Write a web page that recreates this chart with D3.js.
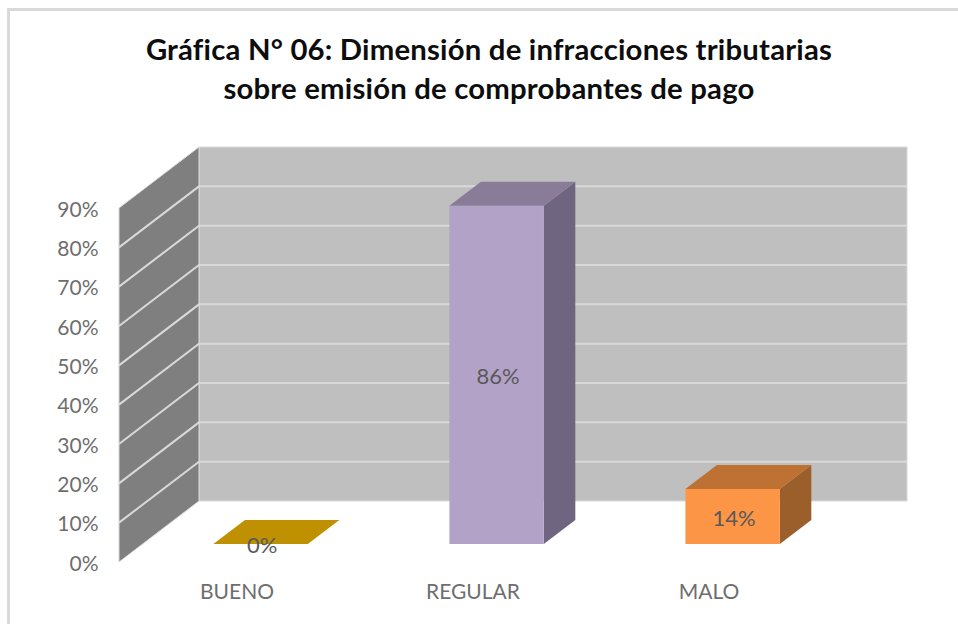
<!DOCTYPE html>
<html><head><meta charset="utf-8">
<script src="https://cdn.jsdelivr.net/npm/d3@7"></script>
<style>html,body{margin:0;padding:0;background:#fff}svg{display:block}text{font-family:Lato,"Noto Sans",sans-serif}</style>
</head><body><div id="chart"></div>
<script>
const titleLines = ["Gráfica N° 06: Dimensión de infracciones tributarias","sobre emisión de comprobantes de pago"];
const categories = ["BUENO","REGULAR","MALO"];
const values = [0,86,14];
const yTicks = [0,10,20,30,40,50,60,70,80,90];
const frontColors = ["#bf9000","#b3a2c7","#fc9646"];
const topColors = ["#bf9000","#887c98","#bd7133"];
const sideColors = ["#bf9000","#706580","#9b5f2c"];

const W=958,H=624;
const svg=d3.select("#chart").append("svg").attr("width",W).attr("height",H);
const x=d3.scaleBand().domain(categories).range([119,827]).paddingInner(0.6).paddingOuter(0.3);
const y=d3.scaleLinear().domain([0,90]).range([562,208]);
const depthX=80, depthY=-61, d0=0.295, d1=0.689;
const px=(xv,d)=>xv+d*depthX, py=(v,d)=>y(v)+d*depthY;
const poly=pts=>pts.map(p=>p.join(",")).join(" ");
const xMin=x.range()[0], xMax=x.range()[1], yTop=yTicks[yTicks.length-1];

// frame
svg.append("path").attr("d",`M8.5,${H}V9.5H${W}`).attr("fill","none").attr("stroke","#d9d9d9").attr("stroke-width",3);

// walls
svg.append("polygon").attr("points",poly([[px(xMin,1),py(0,1)],[px(xMax,1),py(0,1)],[px(xMax,1),py(yTop,1)],[px(xMin,1),py(yTop,1)]])).attr("fill","#bfbfbf").attr("stroke","#d9d9d9").attr("stroke-width",1);
svg.append("polygon").attr("points",poly([[px(xMin,0),py(0,0)],[px(xMin,1),py(0,1)],[px(xMin,1),py(yTop,1)],[px(xMin,0),py(yTop,0)]])).attr("fill","#7f7f7f").attr("stroke","#d9d9d9").attr("stroke-width",1);
// gridlines
const grid=svg.append("g").attr("stroke","#d9d9d9").attr("stroke-width",2).attr("fill","none");
yTicks.slice(1,-1).forEach(t=>{
  grid.append("polyline").attr("points",poly([[px(xMin,0),py(t,0)],[px(xMin,1),py(t,1)],[px(xMax,1),py(t,1)]]));
});

// bars
const bw=x.bandwidth();
categories.forEach((c,i)=>{
  const v=values[i], l=x(c), r=l+bw;
  if(v>0){
    svg.append("polygon").attr("fill",sideColors[i]).attr("points",poly([[px(r,d0),py(0,d0)],[px(r,d1),py(0,d1)],[px(r,d1),py(v,d1)],[px(r,d0),py(v,d0)]]));
    svg.append("polygon").attr("fill",frontColors[i]).attr("points",poly([[px(l,d0),py(0,d0)],[px(r,d0),py(0,d0)],[px(r,d0),py(v,d0)],[px(l,d0),py(v,d0)]]));
  }
  svg.append("polygon").attr("fill",topColors[i]).attr("points",poly([[px(l,d0),py(v,d0)],[px(r,d0),py(v,d0)],[px(r,d1),py(v,d1)],[px(l,d1),py(v,d1)]]));
  svg.append("text").attr("x",px(l+bw/2,d0)+1.5).attr("y",py(v/2,d0)+1.5).attr("dy","0.35em").attr("text-anchor","middle")
    .attr("font-size",22).attr("fill","#595959").text(v+"%");
});

// axes
const yAxis=svg.append("g").attr("transform","translate(102.5,1.5)").call(d3.axisLeft(y).tickValues(yTicks).tickSize(0).tickPadding(4).tickFormat(d=>d+"%"));
yAxis.select(".domain").remove();
yAxis.selectAll("text").attr("font-size",21).attr("fill","#6e6e6e").style("font-family",'Lato,"Noto Sans",sans-serif');
const xAxis=svg.append("g").attr("transform","translate(0,584)").call(d3.axisBottom(x).tickSize(0).tickPadding(0));
xAxis.select(".domain").remove();
xAxis.selectAll("text").attr("font-size",21).attr("fill","#6e6e6e").style("font-family",'Lato,"Noto Sans",sans-serif');

// title
svg.append("g").selectAll("text").data(titleLines).join("text")
  .attr("x",489).attr("y",(d,i)=>60+i*39).attr("text-anchor","middle")
  .attr("font-size",29.3).attr("letter-spacing",0.2).attr("font-weight",700).attr("fill","#0d0d0d").text(d=>d);
</script></body></html>
